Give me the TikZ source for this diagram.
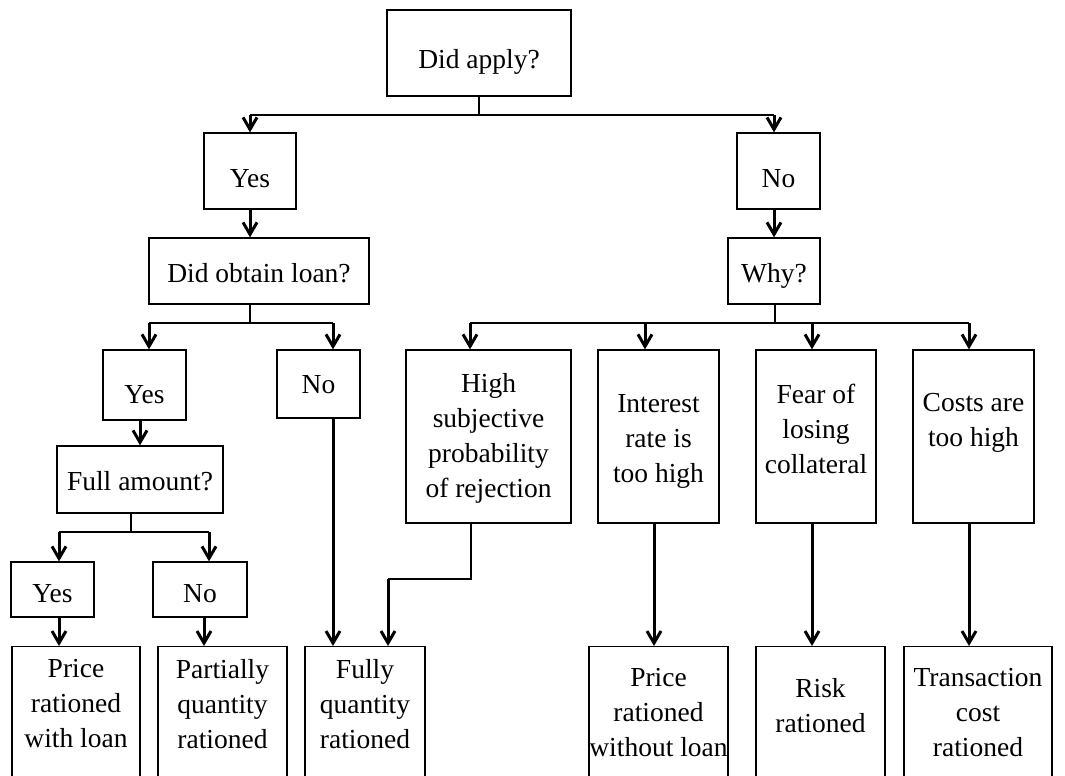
\documentclass[tikz,border=0pt]{standalone}
\usepackage{fontspec}
\setmainfont{Liberation Serif}
\usetikzlibrary{arrows.meta}
\tikzset{
  box/.style={draw, line width=0.65pt, inner sep=1pt, align=center,
    font=\fontsize{13.75}{17.5}\selectfont, text depth=0pt},
  lbl/.style={anchor=north, inner sep=0pt, align=center,
    font=\fontsize{13.75}{17.5}\selectfont},
  link/.style={line width=0.65pt},
  arr/.style={line width=1.5pt, -{Straight Barb[length=6pt,width=7pt]}},
}
\begin{document}
\begin{tikzpicture}[x=0.5pt, y=-0.5pt]
  \useasboundingbox (0,0) rectangle (1065,776);
  \clip (0,0) rectangle (1065,776);
  % first question
  \node[box, minimum width=92pt, minimum height=43pt, text height=15pt] (apply) at (479,53) {Did apply?};
  \node[box, minimum width=46pt, minimum height=38pt, text height=16pt] (yes1) at (250,171) {Yes};
  \node[box, minimum width=41.5pt, minimum height=38pt, text height=16pt] (no1) at (778.5,171) {No};
  \node[box, minimum width=110pt, minimum height=33pt, text height=11pt] (obtain) at (259,271) {Did obtain loan?};
  \node[box, minimum width=46pt, minimum height=33pt, text height=11pt] (why) at (774,271) {Why?};
  % loan branch
  \node[box, minimum width=41.5pt, minimum height=35pt, text height=18pt] (yes2) at (144.5,385) {Yes};
  \node[box, minimum width=41.5pt, minimum height=34pt, text height=9pt] (no2) at (318.5,384) {No};
  \node[box, minimum width=83pt, minimum height=33.5pt, text height=10.5pt] (full) at (140,479.5) {Full amount?};
  \node[box, minimum width=41.5pt, minimum height=27.5pt, text height=12.5pt] (yes3) at (52.5,589.5) {Yes};
  \node[box, minimum width=47pt, minimum height=27.5pt, text height=12.5pt] (no3) at (200,589.5) {No};
  % reasons
  \node[box, minimum width=82.5pt, minimum height=86.5pt,
    label={[lbl, yshift=-12pt]north:High\\subjective\\probability\\of rejection}] (high) at (488.5,436.5) {};
  \node[box, minimum width=60.5pt, minimum height=86.5pt,
    label={[lbl, yshift=-22.5pt]north:Interest\\rate is\\too high}] (interest) at (658.5,436.5) {};
  \node[box, minimum width=60pt, minimum height=86.5pt,
    label={[lbl, yshift=-17pt]north:Fear of\\losing\\collateral}] (fear) at (816,436.5) {};
  \node[box, minimum width=60.5pt, minimum height=86.5pt,
    label={[lbl, yshift=-22pt]north:Costs are\\too high}] (costs) at (973.5,436.5) {};
  % outcomes
  \node[box, anchor=north, minimum width=64pt, minimum height=80pt,
    label={[lbl, yshift=-6.5pt]north:Price\\rationed\\with loan}] (pwl) at (76,646) {};
  \node[box, anchor=north, minimum width=64.5pt, minimum height=80pt,
    label={[lbl, yshift=-6.5pt]north:Partially\\quantity\\rationed}] (partial) at (222.5,646) {};
  \node[box, anchor=north, minimum width=60pt, minimum height=80pt,
    label={[lbl, yshift=-6.5pt]north:Fully\\quantity\\rationed}] (fully) at (365,646) {};
  \node[box, anchor=north, minimum width=69.5pt, minimum height=80pt,
    label={[lbl, yshift=-11pt]north:Price\\rationed\\without loan}] (pnl) at (658.5,646) {};
  \node[box, anchor=north, minimum width=64.5pt, minimum height=80pt,
    label={[lbl, yshift=-16pt]north:Risk\\rationed}] (risk) at (820.5,646) {};
  \node[box, anchor=north, minimum width=74pt, minimum height=80pt,
    label={[lbl, yshift=-11pt]north:Transaction\\cost\\rationed}] (trans) at (978,646) {};
  % branch points
  \coordinate (jA) at (479,115);
  \coordinate (jB) at (250,323);
  \coordinate (bYes) at (149,323);
  \coordinate (bNo) at (333,323);
  \coordinate (jC) at (131,532);
  \coordinate (cYes) at (59,532);
  \coordinate (cNo) at (209,532);
  \coordinate (jD) at (471,579);
  \coordinate (jE) at (388,579);
  \coordinate (jW) at (775,323);
  \coordinate (wHigh) at (470,323);
  \coordinate (wRate) at (645,323);
  \coordinate (wFear) at (812,323);
  \coordinate (wCost) at (969,323);
  % did apply
  \draw[link] (apply.south) -- (jA);
  \draw[link] (jA -| yes1) -- (jA -| why);
  \draw[arr] (jA -| yes1) -- (yes1.north);
  \draw[arr] (jA -| why) -- (no1.north -| why);
  \draw[arr] (yes1.south) -- (yes1.south |- obtain.north);
  \draw[arr] (no1.south -| why) -- (why.north);
  % did obtain loan
  \draw[link] (obtain.south -| jB) -- (jB);
  \draw[link] (bYes) -- (bNo);
  \draw[arr] (bYes) -- (bYes |- yes2.north);
  \draw[arr] (bNo) -- (bNo |- no2.north);
  \draw[arr] (yes2.south -| full) -- (full.north);
  \draw[link] (full.south -| jC) -- (jC);
  \draw[link] (cYes) -- (cNo);
  \draw[arr] (cYes) -- (cYes |- yes3.north);
  \draw[arr] (cNo) -- (cNo |- no3.north);
  \draw[arr] (yes3.south -| cYes) -- (cYes |- pwl.north);
  \draw[arr] ([xshift=2pt]no3.south) -- ([xshift=2pt]no3.south |- partial.north);
  \draw[arr] (no2.south -| bNo) -- (bNo |- fully.north);
  % why
  \draw[link] (why.south -| jW) -- (jW);
  \draw[link] (wHigh) -- (wCost);
  \foreach \w/\b in {wHigh/high, wRate/interest, wFear/fear, wCost/costs}
    \draw[arr] (\w) -- (\w |- \b.north);
  \draw[link] (high.south -| jD) -- (jD) -- (jE);
  \draw[arr] (jE) -- (jE |- fully.north);
  \draw[arr] ([xshift=-2.25pt]interest.south) -- ([xshift=-2.25pt]interest.south |- pnl.north);
  \draw[arr] (fear.south -| wFear) -- (wFear |- risk.north);
  \draw[arr] (costs.south -| wCost) -- (wCost |- trans.north);
\end{tikzpicture}
\end{document}
